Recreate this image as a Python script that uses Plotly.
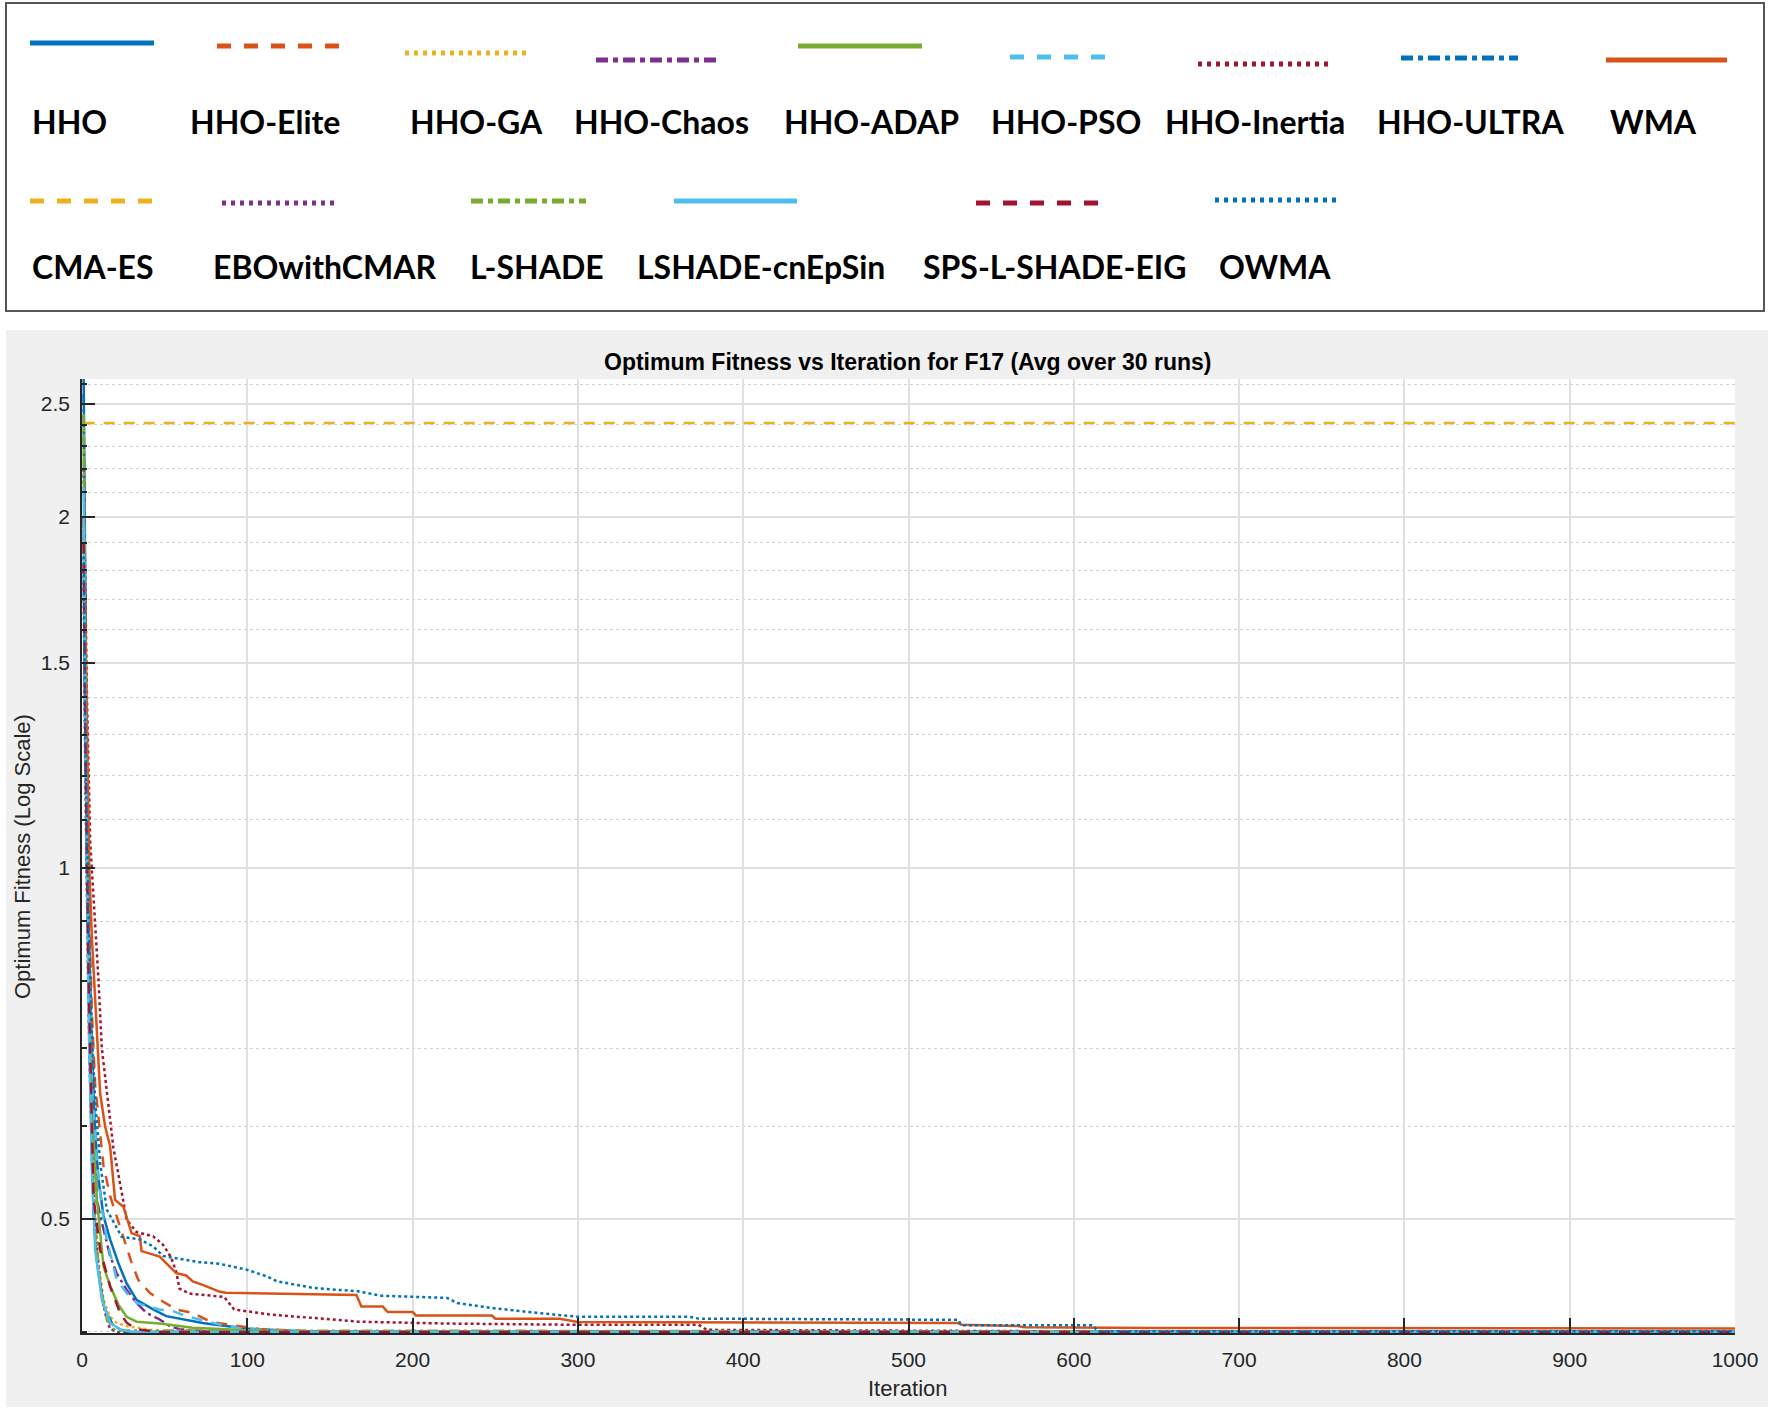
import plotly.graph_objects as go
import math

# ---------------- data ----------------
names = ["HHO", "HHO-Elite", "HHO-GA", "HHO-Chaos", "HHO-ADAP", "HHO-PSO",
         "HHO-Inertia", "HHO-ULTRA", "WMA", "CMA-ES", "EBOwithCMAR", "L-SHADE",
         "LSHADE-cnEpSin", "SPS-L-SHADE-EIG", "OWMA"]

hho_it = [1, 2, 3, 4, 6, 8, 10, 13, 17, 22, 27, 33, 43, 51, 61, 73, 87, 100, 130, 160, 1000]
hho_val = [2.63, 1.6, 1.15, 0.9, 0.7, 0.59, 0.54, 0.503, 0.48, 0.458, 0.44, 0.426, 0.418,
           0.4125, 0.41, 0.407, 0.4045, 0.4025, 0.4005, 0.3998, 0.3998]

elite_it = [1, 2, 4, 6, 8, 10, 13, 17, 23, 30, 34, 41, 47, 57, 67, 75, 81, 94, 108, 150, 1000]
elite_val = [2.0, 1.4, 0.95, 0.75, 0.65, 0.608, 0.555, 0.523, 0.492, 0.4585, 0.4432, 0.432,
             0.4262, 0.4179, 0.4152, 0.4098, 0.4072, 0.4045, 0.402, 0.3998, 0.3998]

ga_it = [1, 2, 4, 6, 8, 10, 13, 17, 21, 27, 39, 50, 1000]
ga_val = [1.7, 1.2, 0.75, 0.58, 0.5, 0.46, 0.426, 0.412, 0.407, 0.4045, 0.402, 0.4, 0.3998]

chaos_it = [1, 2, 4, 6, 9, 11, 17, 21, 27, 33, 39, 47, 53, 59, 80, 1000]
chaos_val = [1.9, 1.3, 0.85, 0.65, 0.52, 0.503, 0.4646, 0.4489, 0.4346, 0.4235, 0.4152,
             0.4098, 0.4045, 0.402, 0.3998, 0.3998]

adap_it = [1, 2, 4, 6, 9, 13, 17, 22, 27, 33, 47, 67, 87, 120, 1000]
adap_val = [2.4, 1.5, 0.85, 0.62, 0.52, 0.455, 0.438, 0.422, 0.412, 0.408, 0.4066, 0.4032,
            0.402, 0.3998, 0.3998]

pso_it = [1, 2, 4, 6, 9, 12, 15, 21, 27, 33, 39, 47, 55, 63, 75, 87, 100, 140, 1000]
pso_val = [1.95, 1.3, 0.85, 0.66, 0.56, 0.51, 0.48, 0.4432, 0.4319, 0.4235, 0.4208, 0.418,
           0.4166, 0.4125, 0.4085, 0.4045, 0.402, 0.3998, 0.3998]

inertia_it = [1, 2, 3, 5, 7, 10, 12, 15, 19, 24, 27, 33, 43, 49, 54, 57, 59, 65, 86, 92,
              113, 140, 167, 221, 302, 373, 378, 600, 1000]
inertia_val = [2.2, 1.7, 1.4, 1.05, 0.95, 0.8, 0.7, 0.64, 0.575, 0.527, 0.499, 0.487, 0.483,
               0.475, 0.463, 0.45, 0.4355, 0.4313, 0.4285, 0.418, 0.414, 0.411, 0.408,
               0.4065, 0.4055, 0.4055, 0.4015, 0.4003, 0.4003]

ultra_it = [1, 2, 3, 5, 7, 9, 13, 19, 27, 1000]
ultra_val = [2.55, 1.5, 1.0, 0.65, 0.503, 0.46, 0.421, 0.4045, 0.3998, 0.3998]

wma_it = [1, 2, 3, 4.4, 6, 9, 11, 14, 17, 20, 25, 30, 35, 36, 47, 57, 63, 67, 73, 83, 87,
          166, 169, 182, 185, 200, 202, 248, 250, 289, 300, 530, 532, 566, 570, 650, 1000]
wma_val = [2.0, 1.6, 1.3, 1.0, 0.87, 0.72, 0.64, 0.6, 0.577, 0.519, 0.512, 0.486, 0.483,
           0.469, 0.464, 0.449, 0.447, 0.4417, 0.4388, 0.433, 0.432, 0.4302, 0.4204, 0.4204,
           0.4159, 0.4159, 0.4131, 0.4131, 0.4104, 0.4104, 0.4077, 0.4069, 0.4055, 0.4045,
           0.4035, 0.403, 0.4025]

cmaes_it = [1, 1000]
cmaes_val = [2.408, 2.408]

ebo_it = [1, 2, 4, 6, 9, 11, 14, 17, 22, 1000]
ebo_val = [1.8, 1.2, 0.75, 0.56, 0.47, 0.44, 0.415, 0.402, 0.3998, 0.3998]

lshade_it = [1, 2, 4, 6, 8, 11, 15, 20, 1000]
lshade_val = [2.45, 1.4, 0.8, 0.58, 0.49, 0.44, 0.41, 0.401, 0.3998]

cnep_it = [1, 2, 4, 6, 8, 12, 17, 23, 30, 1000]
cnep_val = [2.12, 1.35, 0.75, 0.55, 0.47, 0.4262, 0.4072, 0.402, 0.3998, 0.3998]

sps_it = [1, 2, 4, 7, 11, 17, 23, 27, 33, 45, 1000]
sps_val = [1.9, 1.3, 0.8, 0.52, 0.47, 0.4375, 0.4152, 0.4072, 0.402, 0.3998, 0.3998]

owma_it = [1, 2, 4, 6, 8, 11, 15, 21, 24, 35, 43, 49, 59, 71, 83, 91, 100, 112, 118, 140,
           167, 181, 221, 227, 248, 275, 299, 367, 373, 530, 532, 611, 615, 1000]
owma_val = [1.85, 1.3, 0.9, 0.72, 0.63, 0.558, 0.509, 0.492, 0.4825, 0.48, 0.4735, 0.4646,
            0.4617, 0.4589, 0.4575, 0.4546, 0.452, 0.4461, 0.4419, 0.4361, 0.4332, 0.4295,
            0.4276, 0.4233, 0.4192, 0.4152, 0.4121, 0.4121, 0.4105, 0.4095, 0.4052, 0.4052,
            0.4003, 0.4003]

iters = [hho_it, elite_it, ga_it, chaos_it, adap_it, pso_it, inertia_it, ultra_it, wma_it,
         cmaes_it, ebo_it, lshade_it, cnep_it, sps_it, owma_it]
vals = [hho_val, elite_val, ga_val, chaos_val, adap_val, pso_val, inertia_val, ultra_val,
        wma_val, cmaes_val, ebo_val, lshade_val, cnep_val, sps_val, owma_val]

x_ticks = [0, 100, 200, 300, 400, 500, 600, 700, 800, 900, 1000]
y_ticks = [0.5, 1, 1.5, 2, 2.5]
y_ticktext = ["0.5", "1", "1.5", "2", "2.5"]
y_minor = [0.4, 0.6, 0.7, 0.8, 0.9, 1.1, 1.2, 1.3, 1.4, 1.6, 1.7, 1.8, 1.9,
           2.1, 2.2, 2.3, 2.4, 2.6]

# ---------------- styles ----------------
BLUE, ORANGE, YELLOW, PURPLE = "#0072BD", "#D95319", "#EDB120", "#7E2F8E"
GREEN, CYAN, DARKRED = "#77AC30", "#4DBEEE", "#A2142F"
colors = [BLUE, ORANGE, YELLOW, PURPLE, GREEN, CYAN, DARKRED, BLUE, ORANGE,
          YELLOW, PURPLE, GREEN, CYAN, DARKRED, BLUE]
styles = ["solid", "dash", "dot", "dashdot", "solid", "dash", "dot", "dashdot", "solid",
          "dash", "dot", "dashdot", "solid", "dash", "dot"]
plot_dash = {"solid": "solid", "dash": "11px,9px", "dot": "3px,3px",
             "dashdot": "11px,4px,3px,4px"}
leg_dash = {"solid": "solid", "dash": "14px,13px", "dot": "4px,5px",
            "dashdot": "12px,5px,5px,5px"}

W, H = 1772, 1409
L, R, T, B = 82, 1735, 379, 1333   # plot area in pixels


def px(xp):
    return (xp - L) / (R - L)


def py(yp):
    return (B - yp) / (B - T)


fig = go.Figure()
for n, it, v, c, s in zip(names, iters, vals, colors, styles):
    fig.add_trace(go.Scatter(x=it, y=v, mode="lines", name=n, showlegend=False,
                             line=dict(color=c, width=2.5, dash=plot_dash[s])))

shapes = []
grey = "#f0f0f0"
for (x0, y0, x1, y1) in [(6, 330, 1768, T), (6, B, 1768, 1407), (6, T, L, B), (R, T, 1768, B)]:
    shapes.append(dict(type="rect", xref="paper", yref="paper", x0=px(x0), x1=px(x1),
                       y0=py(y0), y1=py(y1), fillcolor=grey, line=dict(width=0),
                       layer="below"))
shapes.append(dict(type="rect", xref="paper", yref="paper", x0=px(6), x1=px(1764),
                   y0=py(3), y1=py(311), fillcolor="white",
                   line=dict(color="#555555", width=2), layer="below"))

leg_pos = [
    (30, 154, 43, 30, 121), (217, 345, 46, 188, 121), (405, 530, 53, 408, 121),
    (596, 716, 60, 572, 121), (798, 922, 46, 782, 121), (1010, 1110, 57, 989, 121),
    (1198, 1328, 64, 1163, 121), (1401, 1518, 58, 1375, 121), (1606, 1727, 60, 1608, 121),
    (30, 164, 201, 30, 267), (222, 337, 203, 211, 267), (471, 586, 201, 468, 267),
    (674, 797, 201, 635, 267), (976, 1105, 203, 921, 267), (1215, 1341, 200, 1217, 267),
]
annotations = []
for n, c, s, (lx0, lx1, ly, tx, ty) in zip(names, colors, styles, leg_pos):
    shapes.append(dict(type="line", xref="paper", yref="paper", x0=px(lx0), x1=px(lx1),
                       y0=py(ly), y1=py(ly), line=dict(color=c, width=5, dash=leg_dash[s])))
    annotations.append(dict(text=n, xref="paper", yref="paper", x=px(tx), y=py(ty),
                            xanchor="left", yanchor="middle", showarrow=False,
                            font=dict(family="Lato", size=32, color="black", weight="bold")))

annotations.append(dict(text="<b>Optimum Fitness vs Iteration for F17 (Avg over 30 runs)</b>",
                        xref="paper", yref="paper", x=px(908), y=py(362), xanchor="center",
                        yanchor="middle", showarrow=False,
                        font=dict(family="Liberation Sans", size=23, color="black")))
annotations.append(dict(text="Iteration", xref="paper", yref="paper", x=px(908), y=py(1388),
                        xanchor="center", yanchor="middle", showarrow=False,
                        font=dict(family="Liberation Sans", size=22, color="#262626")))
annotations.append(dict(text="Optimum Fitness (Log Scale)", xref="paper", yref="paper",
                        x=px(22), y=py(857), xanchor="center", yanchor="middle",
                        textangle=-90, showarrow=False,
                        font=dict(family="Liberation Sans", size=22, color="#262626")))

AX = "#262626"
fig.update_layout(
    width=W, height=H, autosize=False,
    margin=dict(l=L, r=W - R, t=T, b=H - B, pad=0),
    paper_bgcolor="white", plot_bgcolor="white",
    shapes=shapes, annotations=annotations, showlegend=False,
    font=dict(family="Liberation Sans", size=21, color=AX),
)
fig.update_xaxes(range=[0, 1000], tickvals=x_ticks, ticks="inside", ticklen=15,
                 tickwidth=1.5, tickcolor=AX, showline=True, linecolor=AX, linewidth=1.5,
                 showgrid=True, gridcolor="#e0e0e0", gridwidth=1.5, zeroline=False,
                 ticklabelstandoff=7, tickfont=dict(size=21, color=AX))
fig.update_yaxes(type="log", range=[math.log10(0.399), math.log10(2.626)],
                 tickvals=y_ticks, ticktext=y_ticktext, ticks="inside", ticklen=13,
                 tickwidth=1.5, tickcolor=AX, showline=True, linecolor=AX, linewidth=1.5,
                 showgrid=True, gridcolor="#e0e0e0", gridwidth=1.5, zeroline=False,
                 ticklabelstandoff=6, tickfont=dict(size=21, color=AX),
                 minor=dict(tickvals=y_minor, ticks="inside", ticklen=5, tickcolor=AX,
                            showgrid=True, gridcolor="#cfcfcf", griddash="dot",
                            gridwidth=1))

fig.write_html("out.html", config={"displayModeBar": False},
               post_script="document.body.style.margin='0';document.body.style.overflow='hidden';")
